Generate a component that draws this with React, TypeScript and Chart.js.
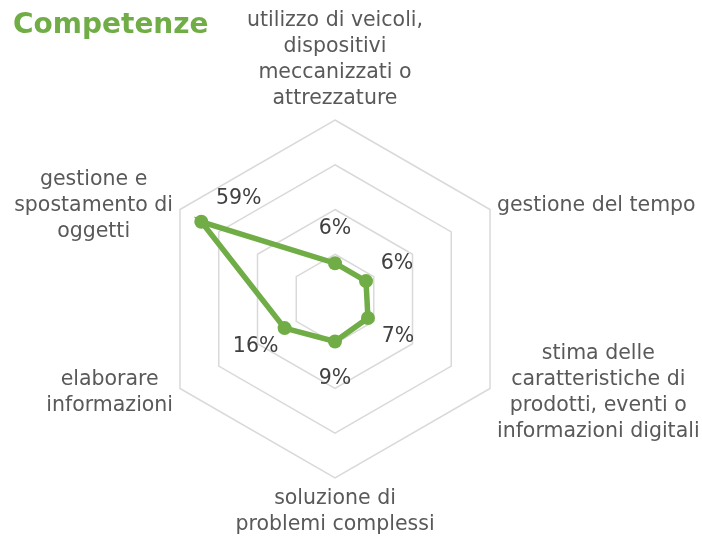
import React, { useEffect, useRef } from "react";
import { Chart, registerables } from "chart.js";

Chart.register(...registerables);

// ---- data ----
const title = "Competenze";
const categories: string[][] = [
  ["utilizzo di veicoli,", "dispositivi", "meccanizzati o", "attrezzature"],
  ["gestione del tempo"],
  ["stima delle", "caratteristiche di", "prodotti, eventi o", "informazioni digitali"],
  ["soluzione di", "problemi complessi"],
  ["elaborare", "informazioni"],
  ["gestione e", "spostamento di", "oggetti"],
];
const values = [0.06, 0.06, 0.07, 0.09, 0.16, 0.59];
const valueLabels = ["6%", "6%", "7%", "9%", "16%", "59%"];
const scaleMin = -0.1;
const scaleMax = 0.7;
const scaleStep = 0.2;

// ---- style ----
const FONT = "'DejaVu Sans', sans-serif";
const GREEN = "#70AD47";
const AXIS_COLOR = "#595959";
const VALUE_COLOR = "#404040";
const GRID_COLOR = "#D9D9D9";
const LABEL_FONT_SIZE = 20.5;
const LINE_H = 26;
const LABEL_PAD = 8;
const VALUE_OFFSETS: [number, number][] = [
  [0, -35],
  [31, -17],
  [30, 19],
  [0, 37],
  [-29, 19],
  [37.5, -23],
];

const labelPlugin = {
  id: "customLabels",
  afterDatasetsDraw(chart: any) {
    const ctx = chart.ctx as CanvasRenderingContext2D;
    const scale = chart.scales.r;
    const labels = chart.data.labels as string[][];
    const n = labels.length;
    ctx.save();
    ctx.font = `${LABEL_FONT_SIZE}px ${FONT}`;
    ctx.textBaseline = "middle";
    ctx.textAlign = "center";
    ctx.fillStyle = AXIS_COLOR;
    labels.forEach((lines, i) => {
      const p = scale.getPointPosition(i, scale.drawingArea + LABEL_PAD);
      const angleDeg = (360 / n) * i;
      const w = Math.max(...lines.map((l) => ctx.measureText(l).width));
      const h = lines.length * LINE_H;
      let cx: number;
      let top: number;
      if (angleDeg === 0) {
        cx = p.x;
        top = p.y - h;
      } else if (angleDeg === 180) {
        cx = p.x;
        top = p.y;
      } else if (angleDeg < 180) {
        cx = p.x + w / 2;
        top = p.y - h / 2;
      } else {
        cx = p.x - w / 2;
        top = p.y - h / 2;
      }
      lines.forEach((l, k) => ctx.fillText(l, cx, top + LINE_H * (k + 0.5)));
    });
    const meta = chart.getDatasetMeta(0);
    ctx.fillStyle = VALUE_COLOR;
    meta.data.forEach((pt: any, i: number) => {
      const [dx, dy] = VALUE_OFFSETS[i];
      ctx.fillText(valueLabels[i], pt.x + dx, pt.y + dy);
    });
    ctx.restore();
  },
};

export default function App() {
  const ref = useRef<HTMLCanvasElement>(null);
  useEffect(() => {
    if (!ref.current) return;
    const chart = new Chart(ref.current, {
      type: "radar",
      data: {
        labels: categories as any,
        datasets: [
          {
            data: values,
            borderColor: GREEN,
            backgroundColor: GREEN,
            borderWidth: 5.5,
            pointRadius: 7,
            pointBorderWidth: 0,
            pointBackgroundColor: GREEN,
            fill: false,
          },
        ],
      },
      options: {
        responsive: false,
        animation: false,
        layout: { padding: { left: 13, right: 45, top: 0, bottom: 60 } },
        plugins: {
          legend: { display: false },
          tooltip: { enabled: false },
          title: {
            display: true,
            text: title,
            align: "start",
            color: GREEN,
            font: { family: FONT, size: 28, weight: "bold" },
            padding: { top: 9, bottom: 77.4 },
          },
        },
        scales: {
          r: {
            min: scaleMin,
            max: scaleMax,
            beginAtZero: false,
            ticks: { display: false, stepSize: scaleStep },
            grid: { color: GRID_COLOR, lineWidth: 1.5, circular: false },
            angleLines: { display: false },
            pointLabels: { display: false },
          },
        },
      },
      plugins: [labelPlugin],
    });
    return () => chart.destroy();
  }, []);
  return (
    <div style={{ position: "fixed", left: 0, top: 0, width: 702, height: 538, background: "#fff" }}>
      <canvas ref={ref} width={702} height={538} style={{ display: "block" }} />
    </div>
  );
}
